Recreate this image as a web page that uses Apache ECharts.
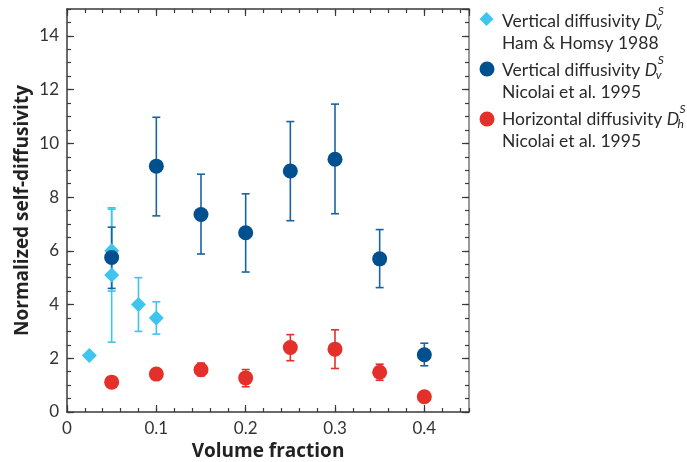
<!DOCTYPE html>
<html>
<head>
<meta charset="utf-8">
<script src="https://cdn.jsdelivr.net/npm/echarts@6/dist/echarts.min.js"></script>
<style>
  html, body { margin: 0; padding: 0; background: #fff; }
  #chart { width: 687px; height: 462px; }
</style>
</head>
<body>
<div id="chart"></div>
<script>
// Ham & Homsy (1988): vertical self-diffusivity
const volHam = [0.025, 0.05, 0.05, 0.08, 0.1];
const dvHam = [2.1, 6.0, 5.1, 4.0, 3.5];
const dvHamLo = [null, 4.5, 2.6, 3.0, 2.9];
const dvHamHi = [null, 7.6, 7.55, 5.0, 4.1];

// Nicolai et al. (1995): vertical and horizontal self-diffusivity
const volNic = [0.05, 0.1, 0.15, 0.2, 0.25, 0.3, 0.35, 0.4];
const dvNic = [5.75, 9.15, 7.35, 6.67, 8.97, 9.41, 5.70, 2.13];
const dvNicLo = [4.6, 7.3, 5.88, 5.21, 7.12, 7.38, 4.63, 1.72];
const dvNicHi = [6.88, 10.97, 8.85, 8.12, 10.81, 11.46, 6.79, 2.56];
const dhNic = [1.11, 1.41, 1.57, 1.27, 2.40, 2.34, 1.48, 0.57];
const dhNicLo = [null, 1.28, 1.35, 0.94, 1.91, 1.62, 1.18, null];
const dhNicHi = [null, 1.55, 1.82, 1.58, 2.88, 3.06, 1.78, null];

const xTickLabels = ['0', '0.1', '0.2', '0.3', '0.4'];
const yTickLabels = ['0', '2', '4', '6', '8', '10', '12', '14'];

const CYAN = '#3ec5ef';
const NAVY = '#00508f';
const NAVY_BAR = '#1b62a0';
const RED = '#e3302b';
const AXIS = '#3a3a3a';
const FONT = 'Lato, "Open Sans", sans-serif';
const TITLE_FONT = '"Open Sans", "Noto Sans", sans-serif';

function pts(xs, ys) { return xs.map((x, i) => [x, ys[i]]); }
function bars(xs, lo, hi) {
  const out = [];
  xs.forEach((x, i) => { if (lo[i] != null) out.push([x, lo[i], hi[i]]); });
  return out;
}
function errorSeries(data, color) {
  return {
    type: 'custom',
    xAxisIndex: 0, yAxisIndex: 0,
    data: data,
    encode: { x: 0, y: [1, 2] },
    renderItem: function (params, api) {
      const x = api.value(0);
      const lo = api.coord([x, api.value(1)]);
      const hi = api.coord([x, api.value(2)]);
      const w = 4;
      const style = { stroke: color, lineWidth: 1.6, fill: null };
      return {
        type: 'group',
        children: [
          { type: 'line', shape: { x1: lo[0], y1: lo[1], x2: hi[0], y2: hi[1] }, style: style },
          { type: 'line', shape: { x1: lo[0] - w, y1: lo[1], x2: lo[0] + w, y2: lo[1] }, style: style },
          { type: 'line', shape: { x1: hi[0] - w, y1: hi[1], x2: hi[0] + w, y2: hi[1] }, style: style }
        ]
      };
    },
    z: 2
  };
}

const labelFont = { fontFamily: FONT, fontSize: 17, color: '#333' };

function xAxisDef(position, interval, tickLen, showLabel, showLine) {
  return {
    type: 'value', position: position, min: 0, max: 0.45, interval: interval,
    axisLine: { show: showLine, onZero: false, lineStyle: { color: AXIS, width: 1.5 } },
    axisTick: { show: true, inside: true, length: tickLen, lineStyle: { color: AXIS, width: 1.2 } },
    axisLabel: showLabel ? Object.assign({
      margin: 8, showMaxLabel: false,
      formatter: function (v) { const i = Math.round(v * 10); return (Math.abs(v * 10 - i) < 1e-6 && i < xTickLabels.length) ? xTickLabels[i] : ''; }
    }, labelFont) : { show: false },
    splitLine: { show: false }
  };
}
function yAxisDef(position, interval, tickLen, showLabel, showLine, lineColor) {
  return {
    type: 'value', position: position, min: 0, max: 15, interval: interval,
    axisLine: { show: showLine, onZero: false, lineStyle: { color: lineColor || AXIS, width: 1.5 } },
    axisTick: { show: true, inside: true, length: tickLen, lineStyle: { color: AXIS, width: 1.2 } },
    axisLabel: showLabel ? Object.assign({
      margin: 8, showMaxLabel: false,
      formatter: function (v) { const i = Math.round(v / 2); return (Math.abs(v / 2 - i) < 1e-6 && i < yTickLabels.length) ? yTickLabels[i] : ''; }
    }, labelFont) : { show: false },
    splitLine: { show: false }
  };
}

const xMain = xAxisDef('bottom', 0.1, 7, true, true);
xMain.name = 'Volume fraction';
xMain.nameLocation = 'middle';
xMain.nameGap = 27;
xMain.nameTextStyle = { fontFamily: TITLE_FONT, fontSize: 19, fontWeight: 'bold', color: '#222' };

const yMain = yAxisDef('left', 2, 7, true, true);
yMain.name = 'Normalized self-diffusivity';
yMain.nameLocation = 'middle';
yMain.nameGap = 35;
yMain.nameMoveOverlap = false;
yMain.nameTextStyle = { fontFamily: TITLE_FONT, fontSize: 19, fontWeight: 'bold', color: '#222' };

// Legend entries, laid out to the right of the plot
const legendFont = '17.5px ' + FONT;
const legendItalic = 'italic 17.5px ' + FONT;
const subFont = 'italic 12px ' + FONT;
const measureCtx = document.createElement('canvas').getContext('2d');
function textWidth(text, font) { measureCtx.font = font; return measureCtx.measureText(text).width; }
function txt(text, x, y, font) {
  return { type: 'text', x: x, y: y, style: { text: text, font: font || legendFont, fill: '#2a2a2a', verticalAlign: 'middle' } };
}
const LX = 502;
// first line of a legend entry: label followed by D with stacked super/subscript
function symbolLine(label, sub, y) {
  const dx = LX + textWidth(label + ' ', legendFont);
  const dw = textWidth('D', legendItalic);
  return [
    txt(label, LX, y),
    txt('D', dx, y, legendItalic),
    txt('S', dx + dw + 0.5, y - 9.5, subFont),
    txt(sub, dx + dw - 1.5, y + 5, subFont)
  ];
}
const legendItems = [].concat(
  [{ type: 'polygon', shape: { points: [[486.5, 12], [493.5, 19], [486.5, 26], [479.5, 19]] }, style: { fill: CYAN } }],
  symbolLine('Vertical diffusivity', 'v', 21),
  [txt('Ham & Homsy 1988', LX, 43)],
  [{ type: 'circle', shape: { cx: 487, cy: 69, r: 7.5 }, style: { fill: NAVY } }],
  symbolLine('Vertical diffusivity', 'v', 70),
  [txt('Nicolai et al. 1995', LX, 92)],
  [{ type: 'circle', shape: { cx: 487, cy: 119, r: 7.5 }, style: { fill: RED } }],
  symbolLine('Horizontal diffusivity', 'h', 119),
  [txt('Nicolai et al. 1995', LX, 141)]
);

const chart = echarts.init(document.getElementById('chart'), null, { renderer: 'canvas' });
chart.setOption({
  animation: false,
  backgroundColor: '#fff',
  grid: { left: 67, right: 218, top: 9, bottom: 50, containLabel: false, outerBoundsMode: 'none' },
  xAxis: [
    xMain,
    xAxisDef('bottom', 0.02, 4, false, false),
    xAxisDef('top', 0.1, 7, false, true),
    xAxisDef('top', 0.02, 4, false, false)
  ],
  yAxis: [
    yMain,
    yAxisDef('left', 0.5, 4, false, false),
    yAxisDef('right', 2, 7, false, true, '#777'),
    yAxisDef('right', 0.5, 4, false, false)
  ],
  series: [
    errorSeries(bars(volHam, dvHamLo, dvHamHi), CYAN),
    {
      type: 'scatter', name: 'Ham & Homsy 1988', data: pts(volHam, dvHam),
      symbol: 'diamond', symbolSize: [15, 15], itemStyle: { color: CYAN, opacity: 1 }, z: 3
    },
    errorSeries(bars(volNic, dvNicLo, dvNicHi), NAVY_BAR),
    {
      type: 'scatter', name: 'Vertical Nicolai', data: pts(volNic, dvNic),
      symbol: 'circle', symbolSize: 15, itemStyle: { color: NAVY, opacity: 1 }, z: 4
    },
    errorSeries(bars(volNic, dhNicLo, dhNicHi), RED),
    {
      type: 'scatter', name: 'Horizontal Nicolai', data: pts(volNic, dhNic),
      symbol: 'circle', symbolSize: 15, itemStyle: { color: RED, opacity: 1 }, z: 4
    }
  ],
  graphic: { elements: legendItems }
});
</script>
</body>
</html>
